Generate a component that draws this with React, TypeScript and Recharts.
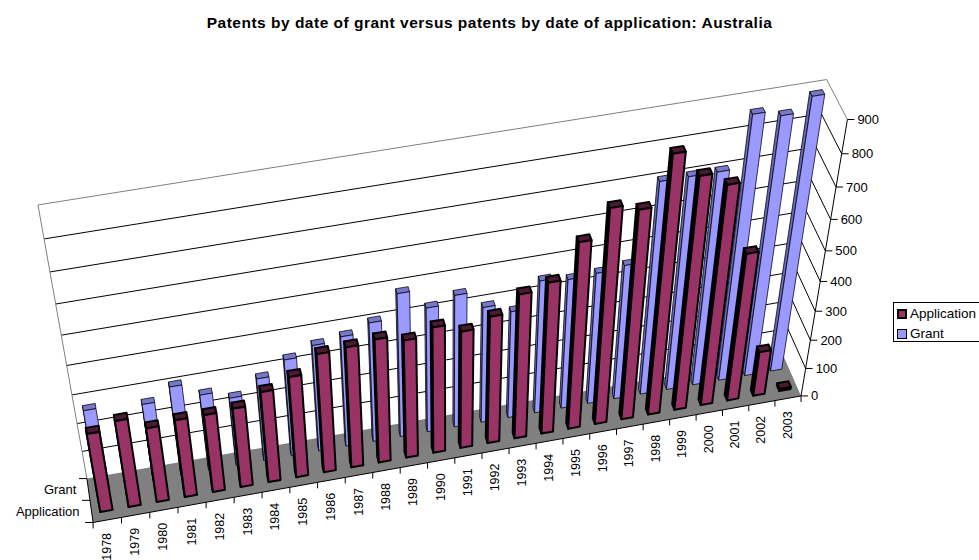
import { BarChart, Bar, XAxis, YAxis, Legend, Customized } from 'recharts';

const years = ['1978', '1979', '1980', '1981', '1982', '1983', '1984', '1985', '1986', '1987', '1988', '1989', '1990', '1991', '1992', '1993', '1994', '1995', '1996', '1997', '1998', '1999', '2000', '2001', '2002', '2003'];
const application = [281, 308, 265, 276, 276, 281, 321, 355, 415, 421, 431, 411, 438, 408, 441, 498, 520, 633, 723, 703, 856, 776, 735, 505, 157, 8];
const grant = [285, 225, 272, 315, 270, 242, 292, 340, 372, 385, 415, 495, 432, 458, 402, 372, 458, 447, 452, 462, 712, 712, 712, 870, 852, 895];
const valueTicks = [0, 100, 200, 300, 400, 500, 600, 700, 800, 900];
const seriesNames = ['Application', 'Grant'];

const data = years.map((year, i) => ({ year, Application: application[i], Grant: grant[i] }));

const FONT = '"Liberation Sans", Arial, sans-serif';
const W = 979;
const H = 560;
const PLOT = { left: 100, top: 100, width: 780, height: 360 };
const BAR = 13;

// screen corners of the chart box: [u, depth, v] -> [x, y]
const corners = [
  [0, 0, 0, 93, 523],
  [1, 0, 0, 801.5, 395],
  [1, 1, 0, 783, 357],
  [0, 1, 0, 87, 478],
  [0, 1, 1, 38, 205],
  [1, 1, 1, 827, 79],
  [1, 0, 1, 847, 120],
];

// least squares fit of the perspective matrix
function fitCamera() {
  const rows: number[][] = [];
  const rhs: number[] = [];
  corners.forEach(([u, d, v, X, Y]) => {
    rows.push([u, d, v, 1, 0, 0, 0, 0, -X * u, -X * d, -X * v]);
    rhs.push(X);
    rows.push([0, 0, 0, 0, u, d, v, 1, -Y * u, -Y * d, -Y * v]);
    rhs.push(Y);
  });
  const n = 11;
  const m = Array.from({ length: n }, (_, i) => {
    const row = Array.from({ length: n }, (_, j) => rows.reduce((s, r) => s + r[i] * r[j], 0));
    row.push(rows.reduce((s, r, k) => s + r[i] * rhs[k], 0));
    return row;
  });
  for (let c = 0; c < n; c++) {
    let best = c;
    for (let r = c + 1; r < n; r++) if (Math.abs(m[r][c]) > Math.abs(m[best][c])) best = r;
    [m[c], m[best]] = [m[best], m[c]];
    for (let r = 0; r < n; r++) {
      if (r === c) continue;
      const f = m[r][c] / m[c][c];
      for (let k = c; k <= n; k++) m[r][k] -= f * m[c][k];
    }
  }
  return m.map((row, i) => row[n] / row[i]);
}
const cam = fitCamera();

function project(u: number, d: number, v: number) {
  const w = cam[8] * u + cam[9] * d + cam[10] * v + 1;
  return [(cam[0] * u + cam[1] * d + cam[2] * v + cam[3]) / w, (cam[4] * u + cam[5] * d + cam[6] * v + cam[7]) / w];
}
const pts = (list: number[][]) => list.map((p) => project(p[0], p[1], p[2]).map((n) => n.toFixed(2)).join(',')).join(' ');
const toU = (x: number) => (x - PLOT.left) / PLOT.width;
const toV = (y: number) => (PLOT.top + PLOT.height - y) / PLOT.height;

function Bar3D({ x, y, width, d0, d1, face, top, side, stroke, sw }: any) {
  const a = toU(x);
  const b = toU(x + width);
  const v = toV(y);
  const common = { stroke, strokeWidth: sw, strokeLinejoin: 'round' as const };
  return (
    <g>
      <polygon points={pts([[a, d0, 0], [a, d1, 0], [a, d1, v], [a, d0, v]])} fill={side} {...common} />
      <polygon points={pts([[a, d0, v], [b, d0, v], [b, d1, v], [a, d1, v]])} fill={top} {...common} />
      <polygon points={pts([[a, d0, 0], [b, d0, 0], [b, d0, v], [a, d0, v]])} fill={face} {...common} />
    </g>
  );
}

function Line3D({ from, to, color = '#000' }: { from: number[]; to: number[]; color?: string }) {
  const p = project(from[0], from[1], from[2]);
  const q = project(to[0], to[1], to[2]);
  return <line x1={p[0]} y1={p[1]} x2={q[0]} y2={q[1]} stroke={color} strokeWidth={1} />;
}

function Box() {
  const max = valueTicks[valueTicks.length - 1];
  return (
    <g>
      <text x={489.5} y={28} textAnchor="middle" fontFamily={FONT} fontSize={15.5} letterSpacing={0.5} fontWeight="bold" fill="#000">
        Patents by date of grant versus patents by date of application: Australia
      </text>
      <polygon points={pts([[0, 0, 0], [1, 0, 0], [1, 1, 0], [0, 1, 0]])} fill="#808080" />
      {valueTicks.slice(1, -1).map((t) => (
        <g key={t}>
          <Line3D from={[0, 1, t / max]} to={[1, 1, t / max]} />
          <Line3D from={[1, 1, t / max]} to={[1, 0, t / max]} />
        </g>
      ))}
      <Line3D from={[0, 1, 1]} to={[1, 1, 1]} color="#808080" />
      <Line3D from={[1, 1, 1]} to={[1, 0, 1]} color="#808080" />
      <Line3D from={[0, 1, 0]} to={[0, 1, 1]} color="#808080" />
      <Line3D from={[0, 0, 0]} to={[1, 0, 0]} />
      <Line3D from={[1, 0, 0]} to={[1, 0, 1]} />
      <Line3D from={[0, 0, 0]} to={[0, 1, 0]} />
      {[0, 0.5, 1].map((d) => {
        const p = project(0, d, 0);
        return <line key={d} x1={p[0] - 8} y1={p[1]} x2={p[0]} y2={p[1]} stroke="#000" />;
      })}
      {seriesNames.map((name, i) => {
        const p = project(0, i === 0 ? 0.25 : 0.75, 0);
        return (
          <text key={name} x={p[0] - 12} y={p[1] + 4.5} textAnchor="end" fontFamily={FONT} fontSize={13} fill="#000">
            {name}
          </text>
        );
      })}
    </g>
  );
}

function YearTick({ x, payload, index }: any) {
  const half = PLOT.width / years.length / 2;
  const p = project(toU(x), 0, 0);
  const s = project(toU(x - half), 0, 0);
  const e = project(toU(x + half), 0, 0);
  return (
    <g>
      <line x1={s[0]} y1={s[1]} x2={s[0]} y2={s[1] + 6} stroke="#000" />
      {index === years.length - 1 && <line x1={e[0]} y1={e[1]} x2={e[0]} y2={e[1] + 6} stroke="#000" />}
      <text
        transform={`translate(${p[0] + 3.5},${p[1] + 13}) rotate(-90)`}
        textAnchor="end"
        fontFamily={FONT}
        fontSize={12.5}
        fill="#000"
      >
        {payload.value}
      </text>
    </g>
  );
}

function ValueTick({ y, payload }: any) {
  const p = project(1, 0, toV(y));
  return (
    <g>
      <line x1={p[0]} y1={p[1]} x2={p[0] + 7} y2={p[1]} stroke="#000" />
      <text x={p[0] + 10} y={p[1] + 4.5} fontFamily={FONT} fontSize={13} fill="#000">
        {payload.value}
      </text>
    </g>
  );
}

function LegendBox() {
  const swatches = [
    { name: seriesNames[0], fill: '#993366', border: '2px solid #000', size: 6 },
    { name: seriesNames[1], fill: '#9999ff', border: '1px solid #000', size: 8 },
  ];
  return (
    <div style={{ border: '1px solid #000', width: 90, height: 38, boxSizing: 'content-box', fontFamily: FONT, fontSize: 13.5, color: '#000', position: 'relative' }}>
      {swatches.map((s, i) => (
        <div key={s.name} style={{ position: 'absolute', left: 3, top: i * 20 + 2, height: 17, display: 'flex', alignItems: 'center', whiteSpace: 'nowrap' }}>
          <span style={{ display: 'inline-block', width: s.size, height: s.size, background: s.fill, border: s.border, marginRight: 3 }} />
          {s.name}
        </div>
      ))}
    </div>
  );
}

export default function App() {
  return (
    <div style={{ position: 'absolute', left: 0, top: 0, width: W, height: H, overflow: 'hidden', background: '#fff' }}>
      <BarChart
        width={W}
        height={H}
        data={data}
        barSize={BAR}
        barGap={-BAR}
        margin={{ left: PLOT.left - 1, top: PLOT.top, right: W - PLOT.left - PLOT.width, bottom: H - PLOT.top - PLOT.height - 1 }}
      >
        <Customized component={Box} />
        <XAxis dataKey="year" height={1} axisLine={false} tickLine={false} interval={0} tick={YearTick} />
        <YAxis width={1} domain={[0, 900]} ticks={valueTicks} axisLine={false} tickLine={false} tick={ValueTick} />
        <Bar
          dataKey="Grant"
          isAnimationActive={false}
          shape={(p: any) => <Bar3D {...p} d0={0.7} d1={0.82} face="#9999ff" top="#7777cc" side="#6666bb" stroke="#000" sw={0.75} />}
        />
        <Bar
          dataKey="Application"
          isAnimationActive={false}
          shape={(p: any) => <Bar3D {...p} d0={0.2} d1={0.34} face="#993366" top="#4d1a33" side="#000" stroke="#000" sw={2} />}
        />
        <Legend layout="vertical" align="center" verticalAlign="middle" wrapperStyle={{ left: 893, top: 302, width: 92 }} content={LegendBox} />
      </BarChart>
    </div>
  );
}
